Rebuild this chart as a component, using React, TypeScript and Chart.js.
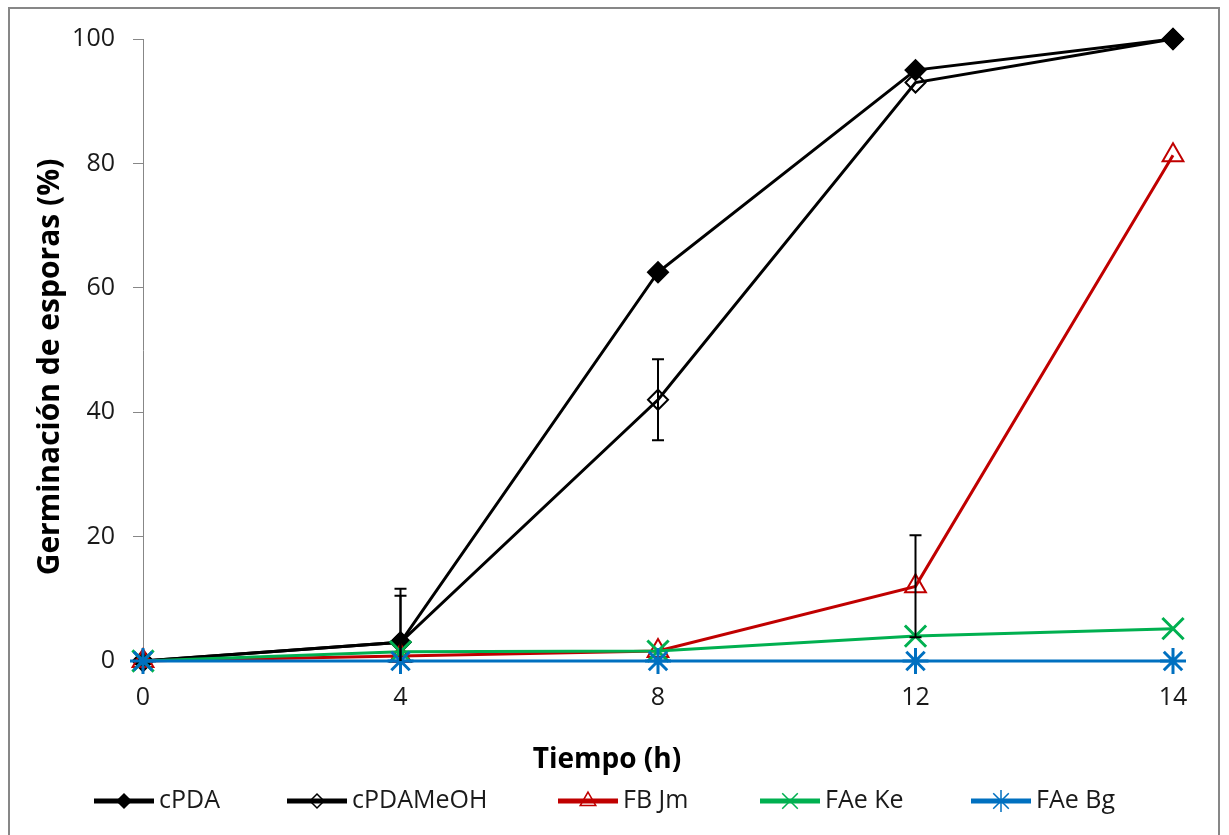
import React, { useEffect, useRef } from "react";
import { Chart, registerables } from "chart.js";
import { drawPoint } from "chart.js/helpers";

Chart.register(...registerables);

const timeLabels = ["0", "4", "8", "12", "14"];
const cPDA = [0, 3, 62.5, 95, 100];
const cPDAMeOH = [0, 3, 42, 93, 100];
const fbJm = [0, 0.8, 1.6, 12, 81.3];
const faeKe = [0, 1.5, 1.6, 4, 5.2];
const faeBg = [0, 0, 0, 0, 0];

const cPDAErr = [0, 8.6, 0, 0, 0];
const cPDAMeOHErr = [0, 7.5, 6.5, 0, 0];
const fbJmErr = [0, 0, 0, 8.2, 0];

const yTicks = [0, 20, 40, 60, 80, 100];

const xTitle = "Tiempo (h)";
const yTitle = "Germinación de esporas (%)";

const FONT = "'Open Sans', sans-serif";
const RED = "#C00000";
const GREEN = "#00B050";
const BLUE = "#0070C0";

export default function App() {
  const ref = useRef<HTMLCanvasElement | null>(null);

  useEffect(() => {
    document.body.style.margin = "0";
    const canvas = ref.current;
    if (!canvas) return;

    const errSets = [cPDAErr, cPDAMeOHErr, fbJmErr];

    const framePlugin = {
      id: "frame",
      beforeDraw(chart: any) {
        const ctx = chart.ctx;
        ctx.save();
        ctx.fillStyle = "#ffffff";
        ctx.fillRect(0, 0, chart.width, chart.height);
        ctx.strokeStyle = "#878787";
        ctx.lineWidth = 2;
        ctx.strokeRect(9, 8, 1210, 840);
        ctx.restore();
      },
    };

    const errorPlugin = {
      id: "errbars",
      afterDatasetsDraw(chart: any) {
        const ctx = chart.ctx;
        const xs = chart.scales.x;
        const ys = chart.scales.y;
        const area = chart.chartArea;
        ctx.save();
        ctx.beginPath();
        ctx.rect(area.left - 20, area.top - 20, area.right - area.left + 40, area.bottom - area.top + 20);
        ctx.clip();
        ctx.strokeStyle = "#000000";
        ctx.lineWidth = 2;
        errSets.forEach((errs, di) => {
          const vals = chart.data.datasets[di].data as number[];
          errs.forEach((e, i) => {
            if (!e) return;
            const x = xs.getPixelForValue(i);
            const yTop = ys.getPixelForValue(vals[i] + e);
            const yBot = ys.getPixelForValue(vals[i] - e);
            ctx.beginPath();
            ctx.moveTo(x, yTop);
            ctx.lineTo(x, yBot);
            ctx.moveTo(x - 6, yTop);
            ctx.lineTo(x + 6, yTop);
            ctx.moveTo(x - 6, yBot);
            ctx.lineTo(x + 6, yBot);
            ctx.stroke();
          });
        });
        ctx.restore();
      },
    };

    const legendX = [94, 287, 558, 760, 971];
    const legendRadius = [7, 7, 9, 11, 11];
    const legendPlugin = {
      id: "customLegend",
      afterDraw(chart: any) {
        const ctx = chart.ctx;
        ctx.save();
        const y = 801;
        chart.data.datasets.forEach((ds: any, i: number) => {
          const x0 = legendX[i];
          ctx.strokeStyle = ds.borderColor;
          ctx.lineWidth = 5;
          ctx.beginPath();
          ctx.moveTo(x0, y);
          ctx.lineTo(x0 + 60, y);
          ctx.stroke();
          ctx.fillStyle = ds.pointBackgroundColor;
          ctx.strokeStyle = ds.pointBorderColor;
          ctx.lineWidth = 1.5;
          drawPoint(ctx, { pointStyle: ds.pointStyle, radius: legendRadius[i], rotation: 0, borderWidth: 1.5 } as any, x0 + 30, y);
          ctx.fillStyle = "#1a1a1a";
          ctx.font = `25px ${FONT}`;
          ctx.textAlign = "left";
          ctx.textBaseline = "middle";
          ctx.fillText(ds.label, x0 + 65, y);
        });

        // axis titles
        ctx.fillStyle = "#000000";
        ctx.textAlign = "center";
        ctx.textBaseline = "middle";
        ctx.font = `bold 28px ${FONT}`;
        ctx.fillText(xTitle, 607, 760);
        ctx.translate(50, 367);
        ctx.rotate(-Math.PI / 2);
        ctx.font = `bold 30px ${FONT}`;
        ctx.fillText(yTitle, 0, 0);
        ctx.restore();
      },
    };

    const mk = (label: string, data: number[], color: string, style: string, fill: string, radius: number, bw: number, idx: number) => ({
      label,
      data,
      borderColor: color,
      backgroundColor: color,
      borderWidth: 3,
      pointStyle: style,
      pointRadius: radius,
      pointBackgroundColor: fill,
      pointBorderColor: color,
      pointBorderWidth: bw,
      tension: 0,
      clip: false as any,
      order: 4 - idx,
    });

    const chart = new Chart(canvas, {
      type: "line",
      data: {
        labels: timeLabels,
        datasets: [
          mk("cPDA", cPDA, "#000000", "rectRot", "#000000", 10, 2, 0),
          mk("cPDAMeOH", cPDAMeOH, "#000000", "rectRot", "rgba(255,255,255,0)", 10, 2, 1),
          mk("FB Jm", fbJm, RED, "triangle", "rgba(255,255,255,0)", 12, 2, 2),
          mk("FAe Ke", faeKe, GREEN, "crossRot", GREEN, 15, 3, 3),
          mk("FAe Bg", faeBg, BLUE, "star", BLUE, 13, 3, 4),
        ],
      },
      options: {
        responsive: false,
        animation: false,
        layout: { padding: { left: 0, right: 56, top: 39, bottom: 0 } },
        plugins: {
          legend: { display: false },
          tooltip: { enabled: false },
        },
        scales: {
          x: {
            type: "category",
            offset: false,
            grid: { display: false, drawTicks: false },
            border: { display: true, color: "#878787", width: 1 },
            ticks: { color: "#1a1a1a", font: { family: FONT, size: 25 }, padding: 22, maxRotation: 0 },
            afterFit(s: any) {
              s.height = 835 - 661;
            },
          },
          y: {
            min: 0,
            max: 100,
            afterBuildTicks(s: any) {
              s.ticks = yTicks.map((v) => ({ value: v }));
            },
            grid: { drawOnChartArea: false, drawTicks: true, tickLength: 10, color: "#878787" },
            border: { display: true, color: "#878787", width: 1 },
            ticks: { color: "#1a1a1a", font: { family: FONT, size: 25 }, padding: 18 },
            afterFit(s: any) {
              s.width = 143;
            },
          },
        },
      },
      plugins: [framePlugin, errorPlugin, legendPlugin],
    } as any);

    return () => chart.destroy();
  }, []);

  return <canvas ref={ref} width={1229} height={835} style={{ display: "block" }} />;
}
